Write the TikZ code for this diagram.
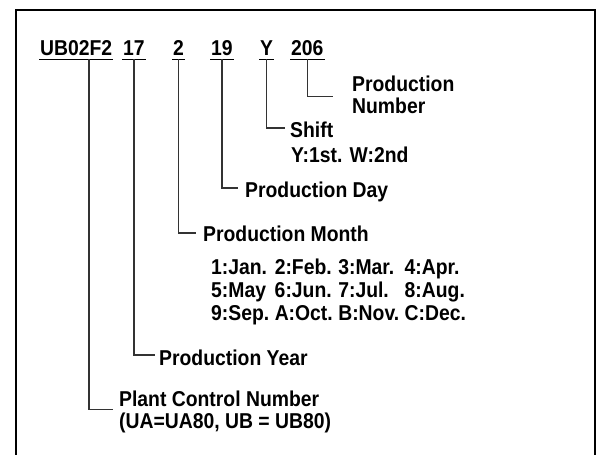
\documentclass[tikz,border=0pt]{standalone}
\usepackage{fontspec}
\setmainfont[FakeStretch=0.9]{Liberation Sans}
\usetikzlibrary{positioning}

\begin{document}
\begin{tikzpicture}[
    x=1pt, y=-1pt,
    every node/.style={
        inner sep=0pt,
        font=\bfseries\fontsize{21.5}{22}\selectfont
      },
    code/.style={anchor=base west, inner xsep=1pt, outer ysep=3pt},
    lbl/.style={anchor=base west},
    block/.style={anchor=north west, align=left},
    conn/.style={line width=1.1pt, black!80},
    uline/.style={line width=0.9pt}
  ]
  \useasboundingbox (0,0) rectangle (603,455);

  % frame, open at the bottom
  \draw[line width=2.2pt] (16,455) -- (16,10) -- (595,10) -- (595,455);

  % code row
  \node[code] (plant)  at (39,56)  {UB02F2};
  \node[code] (year)   at (122,56) {17};
  \node[code] (month)  at (172,56) {2};
  \node[code] (day)    at (210,56) {19};
  \node[code] (shift)  at (259,56) {Y};
  \node[code] (serial) at (290,56) {206};

  \foreach \c in {plant,year,month,day,shift,serial}
    \draw[uline] (\c.south west) -- (\c.south east);

  % descriptions
  \node[block] (serialname) at (352,76) {Production\\Number};
  \node[lbl] (shiftname) at (290,137) {Shift};
  \node[lbl] (shiftlist) at (291,162) {Y:1st. W:2nd};
  \node[lbl] (dayname) at (245,197) {Production Day};
  \node[lbl] (monthname) at (203,241) {Production Month};
  \node[block, font=\bfseries\fontsize{21.5}{23}\selectfont] (monthlist) at (211,258)
    {\begin{tabular}{@{}l@{\hspace{5.5pt}}l@{\hspace{5.5pt}}l@{\hspace{5.5pt}}l@{}}
      1:Jan. & 2:Feb. & 3:Mar. & 4:Apr.\\
      5:May  & 6:Jun. & 7:Jul. & 8:Aug.\\
      9:Sep. & A:Oct. & B:Nov. & C:Dec.
    \end{tabular}};
  \node[lbl] (yearname) at (159,365) {Production Year};
  \node[block] (plantname) at (119,391)
    {Plant Control Number\\(UA=UA80, UB = UB80)};

  % connectors
  \draw[conn] (serial.south) |- ([xshift=-19pt,yshift=-1.6pt]serialname.west);
  \draw[conn] (shift.south) |- ([xshift=-5pt,yshift=9pt]shiftname.base west);
  \draw[conn] (day.south) |- ([xshift=-7pt,yshift=9pt]dayname.base west);
  \draw[conn] (month.south) |- ([xshift=-7pt,yshift=8pt]monthname.base west);
  \draw[conn] (year.south) |- ([xshift=-4pt,yshift=10pt]yearname.base west);
  \draw[conn] ([xshift=50pt]plant.south west) |- ([xshift=-6pt,yshift=3pt]plantname.west);

\end{tikzpicture}
\end{document}
